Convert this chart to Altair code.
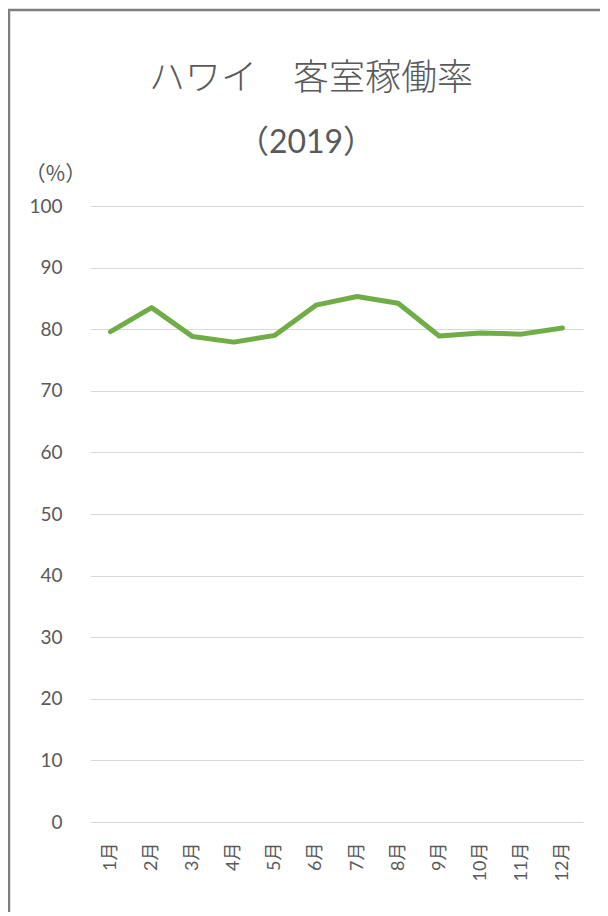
import altair as alt
import pandas as pd

months = ["1月", "2月", "3月", "4月", "5月", "6月", "7月", "8月", "9月", "10月", "11月", "12月"]
occupancy = [79.6, 83.5, 78.8, 77.9, 79.0, 83.9, 85.3, 84.2, 78.9, 79.4, 79.2, 80.2]
y_ticks = [0, 10, 20, 30, 40, 50, 60, 70, 80, 90, 100]
title_lines = ["ハワイ　客室稼働率", "（2019）"]

df = pd.DataFrame({"month": months, "rate": occupancy})

FONT = "Lato, Noto Sans CJK JP"
CJK = "Noto Sans CJK JP"
GRAY = "#595959"

frame = alt.Chart(pd.DataFrame({"k": [0]})).mark_rect(
    fill=None, stroke="#7f7f7f", strokeWidth=2.5, clip=False
).encode(
    x=alt.value(-81), x2=alt.value(700), y=alt.value(-196), y2=alt.value(950)
)

title1 = alt.Chart(pd.DataFrame({"t": [title_lines[0]]})).mark_text(
    font=CJK, fontSize=36, fontWeight=300, color=GRAY, align="center", baseline="middle"
).encode(text="t:N", x=alt.value(221), y=alt.value(-127))

title2 = alt.Chart(pd.DataFrame({"t": [title_lines[1]]})).mark_text(
    font=FONT, fontSize=32, color=GRAY, align="center", baseline="middle"
).encode(text="t:N", x=alt.value(216), y=alt.value(-63))

line = alt.Chart(df).mark_line(color="#70AD47", strokeWidth=5, strokeJoin="round", strokeCap="round").encode(
    x=alt.X("month:N", sort=months,
            scale=alt.Scale(type="point", padding=0.5),
            axis=alt.Axis(title=None, labelAngle=-90, labelFontSize=18, labelColor=GRAY,
                          labelFont=FONT, ticks=False, domain=False, grid=False,
                          labelPadding=20)),
    y=alt.Y("rate:Q", scale=alt.Scale(domain=[0, 100]),
            axis=alt.Axis(values=y_ticks, title="（%）", titleAngle=0, titleX=-35, titleY=-22,
                          titleAlign="center", titleFontSize=21, titleFontWeight="normal",
                          titleColor=GRAY, titleFont=CJK,
                          labelFontSize=19, labelColor=GRAY, labelFont=FONT,
                          ticks=False, domain=False, labelPadding=28,
                          grid=True, gridColor="#d9d9d9", gridWidth=1.2)),
)

chart = alt.layer(frame, title1, title2, line).properties(
    width=493, height=616,
    padding={"left": 82, "top": 198, "right": 17, "bottom": 90},
    autosize=alt.AutoSizeParams(type="none"),
).configure_view(stroke=None)

chart.save("out.html", embed_options={"renderer": "svg", "actions": False})
